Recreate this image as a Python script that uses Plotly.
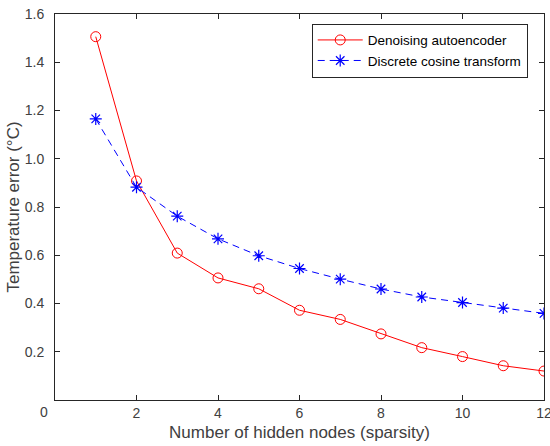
import plotly.graph_objects as go

nodes = [1, 2, 3, 4, 5, 6, 7, 8, 9, 10, 11, 12]
dae_error = [1.506, 0.908, 0.609, 0.506, 0.461, 0.372, 0.334, 0.274, 0.217, 0.180, 0.142, 0.120]
dct_error = [1.165, 0.882, 0.762, 0.668, 0.598, 0.545, 0.501, 0.460, 0.427, 0.404, 0.381, 0.359]
x_ticks = [2, 4, 6, 8, 10, 12]
y_ticks = [0.2, 0.4, 0.6, 0.8, 1.0, 1.2, 1.4, 1.6]

FONT = "Liberation Sans, Arial, sans-serif"
AX = "#262626"
TXT = "#404040"

fig = go.Figure()
fig.add_trace(go.Scatter(
    x=nodes, y=dae_error, name="Denoising autoencoder", mode="lines+markers",
    line=dict(color="#ff0000", width=1),
    marker=dict(symbol="circle-open", size=10, color="#ff0000", line=dict(width=1, color="#ff0000")),
))
fig.add_trace(go.Scatter(
    x=nodes, y=dct_error, name="Discrete cosine transform", mode="lines+markers",
    line=dict(color="#0000ff", width=1, dash="7px,5px"),
    marker=dict(symbol="asterisk-open", size=10, color="#0000ff", line=dict(width=1.2, color="#0000ff")),
))

fig.update_layout(
    width=550, height=446,
    margin=dict(l=55, r=6, t=14, b=46),
    paper_bgcolor="white", plot_bgcolor="white",
    font=dict(family=FONT, size=14, color=AX),
    showlegend=True,
    legend=dict(
        x=0.525, y=0.975, xanchor="left", yanchor="top",
        bgcolor="white", bordercolor=AX, borderwidth=1,
        font=dict(family=FONT, size=13.5, color="#000000"),
        itemwidth=45, tracegroupgap=0,
    ),
    xaxis=dict(
        range=[0, 12], tickvals=x_ticks, ticktext=[str(v) for v in x_ticks],
        ticks="inside", ticklen=5, tickcolor=AX, tickwidth=1,
        showline=True, linecolor=AX, linewidth=1, mirror="ticks",
        showgrid=False, zeroline=False, ticklabeloverflow="allow",
        tickfont=dict(family=FONT, size=14, color=TXT),
        title=dict(text="Number of hidden nodes (sparsity)", font=dict(family=FONT, size=17, color=TXT), standoff=6),
        automargin=False,
    ),
    yaxis=dict(
        range=[0, 1.6], tickvals=y_ticks, ticktext=["%.1f" % v for v in y_ticks],
        ticks="inside", ticklen=5, tickcolor=AX, tickwidth=1,
        showline=True, linecolor=AX, linewidth=1, mirror="ticks",
        showgrid=False, zeroline=False, ticklabeloverflow="allow",
        ticklabelstandoff=7,
        tickfont=dict(family=FONT, size=14, color=TXT),
        title=dict(text="Temperature error (°C)", font=dict(family=FONT, size=17, color=TXT), standoff=0),
        automargin=False,
    ),
)

fig.add_annotation(
    text="0", xref="paper", yref="paper", x=-0.0225, y=-0.031,
    xanchor="center", yanchor="middle", showarrow=False,
    font=dict(family=FONT, size=14, color=TXT),
)

fig.write_html("out.html")
